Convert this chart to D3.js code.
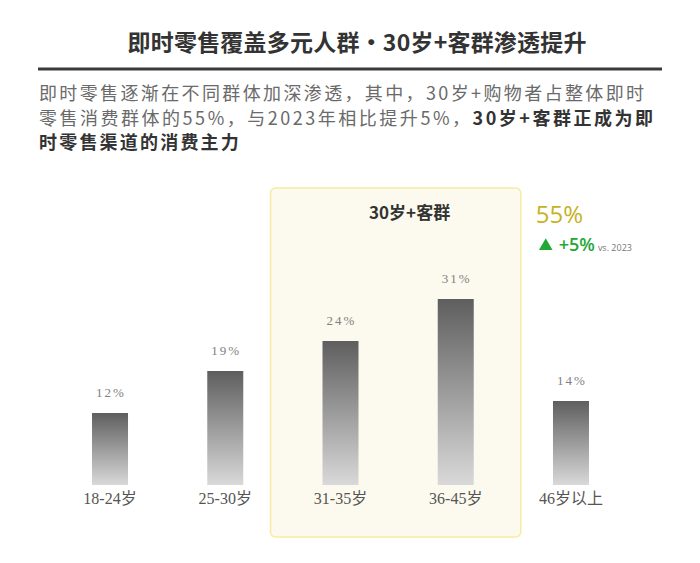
<!DOCTYPE html>
<html>
<head>
<meta charset="utf-8">
<script src="https://cdn.jsdelivr.net/npm/d3@7"></script>
<style>
  html, body { margin: 0; padding: 0; background: #fff; }
  svg { display: block; }
</style>
</head>
<body>
<div id="chart"></div>
<script>
// chart data
var categories = ['18-24岁', '25-30岁', '31-35岁', '36-45岁', '46岁以上'];
var shares = [12, 19, 24, 31, 14];
var valueLabels = ['12%', '19%', '24%', '31%', '14%'];
var highlighted = ['31-35岁', '36-45岁'];
var titleText = '即时零售覆盖多元人群·30岁+客群渗透提升';
var groupTitle = '30岁+客群';
var groupShare = '55%';
var groupChange = '+5%';
var groupCompare = 'vs. 2023';

var width = 700, height = 563;
var cjk = '"Noto Sans CJK SC", "Noto Sans", sans-serif';
var serif = '"Liberation Serif", "DejaVu Serif", "Noto Sans CJK SC", serif';

var svg = d3.select('#chart').append('svg')
    .attr('width', width)
    .attr('height', height);

// gradient for bars
var defs = svg.append('defs');
var grad = defs.append('linearGradient')
    .attr('id', 'barGrad')
    .attr('x1', 0).attr('y1', 0).attr('x2', 0).attr('y2', 1);
grad.append('stop').attr('offset', '0%').attr('stop-color', '#5e5e5e');
grad.append('stop').attr('offset', '100%').attr('stop-color', '#d9d9d9');

// header
svg.append('text')
    .attr('x', 357)
    .attr('y', 51)
    .attr('text-anchor', 'middle')
    .attr('textLength', 459)
    .attr('lengthAdjust', 'spacing')
    .attr('font-family', cjk)
    .attr('font-weight', 700)
    .attr('font-size', 23)
    .attr('fill', '#333')
    .text(titleText);

svg.append('line')
    .attr('x1', 38).attr('x2', 662)
    .attr('y1', 69).attr('y2', 69)
    .attr('stroke', '#3a3a3a')
    .attr('stroke-width', 3);

// intro paragraph
var para = svg.append('g')
    .attr('font-family', cjk)
    .attr('font-size', 18);

para.append('text')
    .attr('x', 39).attr('y', 100)
    .attr('textLength', 605)
    .attr('lengthAdjust', 'spacing')
    .attr('fill', '#6a6a6a')
    .text('即时零售逐渐在不同群体加深渗透，其中，30岁+购物者占整体即时');

var line2 = para.append('text')
    .attr('x', 39).attr('y', 125)
    .attr('textLength', 614)
    .attr('lengthAdjust', 'spacing');
line2.append('tspan').attr('fill', '#6a6a6a')
    .text('零售消费群体的55%，与2023年相比提升5%，');
line2.append('tspan').attr('fill', '#333').attr('font-weight', 700)
    .text('30岁+客群正成为即');

para.append('text')
    .attr('x', 39).attr('y', 149)
    .attr('fill', '#333')
    .attr('font-weight', 700)
    .attr('letter-spacing', 2.2)
    .text('时零售渠道的消费主力');

// scales
var x = d3.scaleBand()
    .domain(categories)
    .range([52.4, 628.6])
    .padding(0);

var y = d3.scaleLinear()
    .domain([0, 35])
    .range([485, 275]);

var barWidth = 36;
function cx(d) { return x(d) + x.bandwidth() / 2; }

// highlight panel
var boxLeft = cx(highlighted[0]) - 70;
var boxRight = cx(highlighted[1]) + 65;
svg.append('rect')
    .attr('x', boxLeft)
    .attr('y', 188)
    .attr('width', boxRight - boxLeft)
    .attr('height', 349)
    .attr('rx', 5)
    .attr('fill', '#fcfaee')
    .attr('stroke', '#f6eca0')
    .attr('stroke-width', 1.5);

svg.append('text')
    .attr('x', (boxLeft + boxRight) / 2 + 14)
    .attr('y', 219)
    .attr('text-anchor', 'middle')
    .attr('font-family', cjk)
    .attr('font-weight', 700)
    .attr('font-size', 17)
    .attr('fill', '#333')
    .text(groupTitle);

// call-out next to panel
svg.append('text')
    .attr('x', boxRight + 15)
    .attr('y', 223)
    .attr('font-family', '"Open Sans", "Noto Sans", sans-serif')
    .attr('font-size', 24)
    .attr('fill', '#c6b224')
    .text(groupShare);

svg.append('path')
    .attr('d', d3.symbol().type(d3.symbolTriangle).size(80)())
    .attr('transform', 'translate(' + (boxRight + 25) + ',246)')
    .attr('fill', '#22a835');

var change = svg.append('text')
    .attr('x', boxRight + 38)
    .attr('y', 251)
    .attr('font-family', '"Open Sans", "Noto Sans", sans-serif');
change.append('tspan')
    .attr('font-size', 18)
    .attr('font-weight', 600)
    .attr('fill', '#22a835')
    .text(groupChange);
change.append('tspan')
    .attr('dx', 3)
    .attr('font-size', 9)
    .attr('fill', '#777')
    .text(groupCompare);

// bars
var bars = svg.append('g');
bars.selectAll('rect')
    .data(categories)
    .enter()
    .append('rect')
    .attr('x', function(d) { return cx(d) - barWidth / 2; })
    .attr('y', function(d, i) { return y(shares[i]); })
    .attr('width', barWidth)
    .attr('height', function(d, i) { return y(0) - y(shares[i]); })
    .attr('fill', 'url(#barGrad)');

bars.selectAll('text.val')
    .data(categories)
    .enter()
    .append('text')
    .attr('class', 'val')
    .attr('x', function(d) { return cx(d) + 1; })
    .attr('y', function(d, i) { return y(shares[i]) - 16; })
    .attr('text-anchor', 'middle')
    .attr('font-family', serif)
    .attr('font-size', 13)
    .attr('letter-spacing', 2)
    .attr('fill', '#808080')
    .text(function(d, i) { return valueLabels[i]; });

// category axis
var axis = svg.append('g')
    .attr('transform', 'translate(0,' + y(0) + ')')
    .call(d3.axisBottom(x).tickSize(0).tickPadding(8));
axis.select('.domain').remove();
axis.selectAll('text')
    .attr('font-family', serif)
    .attr('font-size', 16)
    .attr('fill', '#555');
</script>
</body>
</html>
